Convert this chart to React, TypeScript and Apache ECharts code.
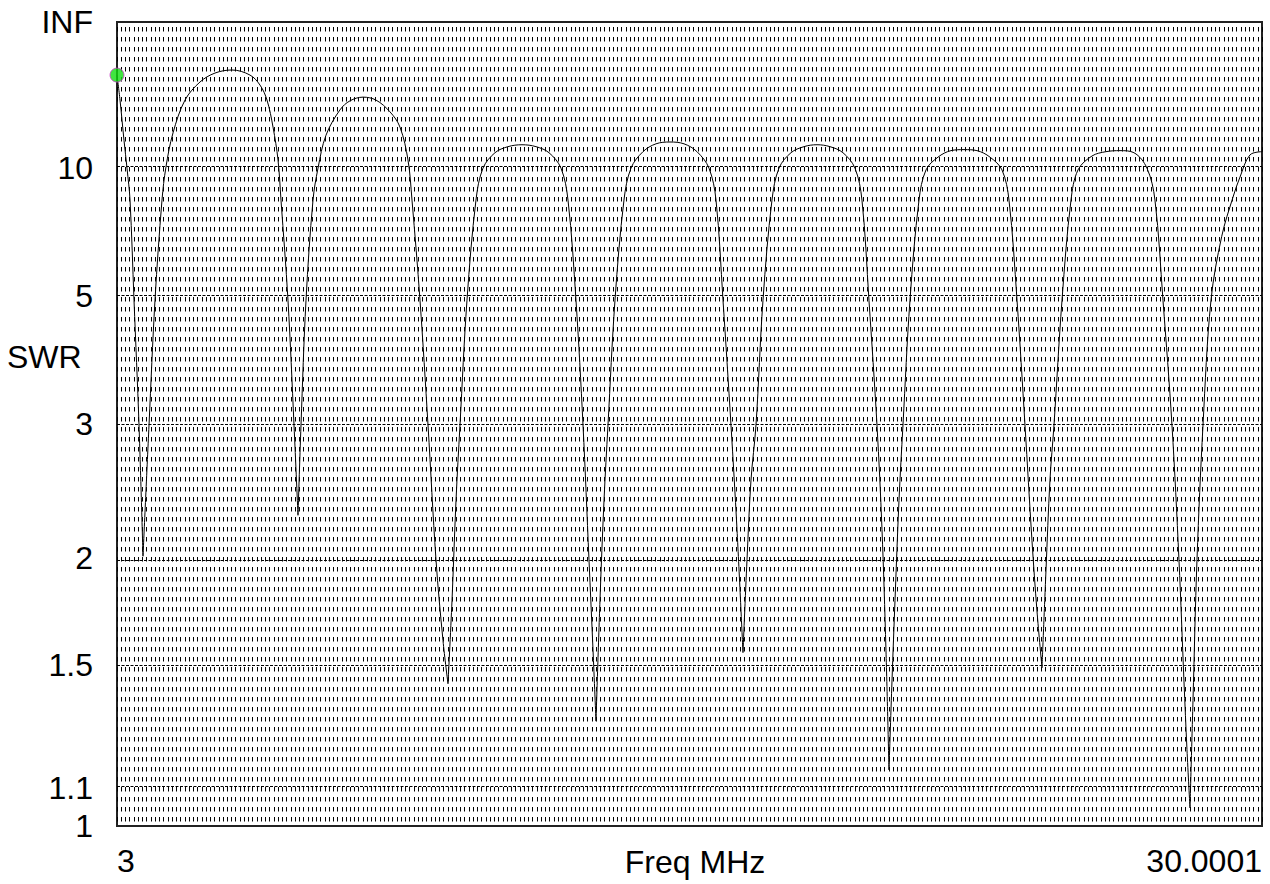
import { useEffect, useRef } from "react";
import * as echarts from "echarts";

// Frequency (MHz) and SWR
const freqMHz = [
  3.0, 3.071, 3.165, 3.236, 3.307, 3.401, 3.519, 3.613,
  3.755, 3.896, 4.061, 4.155, 4.321, 4.604, 4.957, 5.311, 5.712, 6.136, 6.372, 6.537, 6.679, 6.797, 6.867, 7.032, 7.174, 7.268,
  7.339, 7.457, 7.622, 7.74, 7.928, 8.258, 8.494, 8.801, 9.107, 9.437, 9.673, 9.862, 9.956, 10.145, 10.334, 10.522, 10.687, 10.805,
  10.9, 10.994, 11.088, 11.253, 11.465, 11.63, 11.913, 12.22, 12.55, 12.88, 13.187, 13.47, 13.635, 13.823, 13.989, 14.13, 14.225, 14.295,
  14.389, 14.484, 14.578, 14.743, 14.955, 15.12, 15.403, 15.71, 16.04, 16.37, 16.677, 16.96, 17.125, 17.29, 17.478, 17.62, 17.761,
  17.856, 17.95, 18.068, 18.233, 18.445, 18.61, 18.893, 19.199, 19.506, 19.813, 20.119, 20.402, 20.567, 20.732, 20.921, 21.039, 21.133, 21.204,
  21.275, 21.346, 21.44, 21.534, 21.699, 21.912, 22.077, 22.36, 22.666, 22.973, 23.279, 23.586, 23.869, 24.034, 24.223, 24.411, 24.576, 24.694, 24.812,
  24.906, 25.0, 25.095, 25.284, 25.496, 25.661, 25.991, 26.321, 26.651, 26.981, 27.288, 27.476, 27.665, 27.877, 28.042, 28.16, 28.231, 28.302,
  28.373, 28.467, 28.609, 28.797, 29.05, 29.316, 29.481, 29.717, 30.0001,
];
const swr = [
  29.3, 19.6, 12.6, 10.0, 8.03, 4.78, 2.99, 2.01,
  2.99, 4.78, 8.03, 10.1, 13.5, 19.6, 25.8, 30.5, 32.5, 29.3, 24.5, 19.6, 14.3, 10.65, 8.03, 4.78, 2.99, 2.26,
  2.99, 4.78, 8.03, 10.0, 13.2, 17.3, 19.4, 20.4, 19.6, 16.9, 14.3, 10.65, 8.03, 4.78, 2.99, 1.99, 1.6, 1.43,
  1.78, 2.36, 2.99, 4.78, 8.03, 10.0, 11.3, 11.9, 12.1, 11.9, 11.3, 10.0, 8.03, 4.78, 2.99, 1.99, 1.56, 1.3,
  1.78, 2.36, 2.99, 4.78, 8.03, 10.0, 11.4, 12.2, 12.4, 12.2, 11.4, 10.0, 8.03, 4.78, 2.99, 2.17, 1.55,
  1.99, 2.51, 2.99, 4.78, 8.03, 10.0, 11.3, 11.9, 12.1, 11.9, 11.3, 10.0, 8.03, 4.78, 2.99, 2.17, 1.56, 1.15,
  1.44, 1.78, 2.36, 2.99, 4.78, 8.03, 9.87, 10.9, 11.5, 11.6, 11.5, 10.9, 9.87, 8.03, 4.78, 2.99, 2.1, 1.73, 1.49,
  1.93, 2.51, 2.99, 4.78, 8.03, 9.87, 11.0, 11.4, 11.5, 11.3, 10.0, 8.03, 4.78, 2.99, 1.99, 1.44, 1.21, 1.046,
  1.37, 1.99, 2.99, 4.78, 6.5, 8.18, 9.37, 11.1, 11.4,
];

// Y tick labels and the SWR level where the reference draws each of them
const yTickLabels = ["1", "1.1", "1.5", "2", "3", "5", "10", "INF"];
const yTickAtSWR = [1, 1.1, 1.5, 2, 3, 4.87, 10, Infinity];
const majorGridAtSWR = [1.1, 1.5, 2, 3, 4.87, 10];
const xTickValues = [3, 30.0001];
const xTickLabels = ["3", "30.0001"];
const markerPoint = [3, 29.3];

const FONT = "'Liberation Sans', Arial, sans-serif";
const FS = 32;

const refl = (s: number) => (s === Infinity ? 1 : (s - 1) / (s + 1));

export default function App() {
  const ref = useRef<HTMLDivElement>(null);
  useEffect(() => {
    if (!ref.current) return;
    const chart = echarts.init(ref.current, null, { renderer: "svg" });
    const yVals = yTickAtSWR.map(refl);

    // split the curve at its dips so each arch is smoothed while dips stay sharp
    const pts = freqMHz.map((f, i) => [f, refl(swr[i])]);
    const cuts: number[] = [0];
    for (let i = 1; i < swr.length - 1; i++) {
      if (swr[i] < swr[i - 1] && swr[i] < swr[i + 1]) cuts.push(i);
    }
    cuts.push(swr.length - 1);
    const segs: number[][][] = [];
    for (let k = 0; k < cuts.length - 1; k++) segs.push(pts.slice(cuts[k], cuts[k + 1] + 1));

    const lineSeries = segs.map((d, k) => ({
      type: "line",
      data: d,
      showSymbol: false,
      smooth: 0.35,
      lineStyle: { color: "#000", width: 1 },
      silent: true,
      ...(k === 0
        ? {
            markLine: {
              silent: true,
              symbol: "none",
              label: { show: false },
              lineStyle: { color: "#000", width: 1, type: [3, 1.5] },
              data: majorGridAtSWR.map((s) => ({ yAxis: refl(s) })),
            },
          }
        : {}),
    }));

    chart.setOption({
      animation: false,
      backgroundColor: "#fff",
      textStyle: { fontFamily: FONT },
      grid: {
        left: 117,
        top: 22,
        width: 1145,
        height: 804,
        show: true,
        borderColor: "#222",
        borderWidth: 2,
        containLabel: false,
        outerBoundsMode: "none",
      },
      graphic: [
        {
          type: "text",
          left: 7,
          top: 341,
          style: { text: "SWR", font: `${FS}px ${FONT}`, fill: "#000" },
        },
        {
          type: "text",
          x: 695,
          y: 862,
          style: {
            text: "Freq MHz",
            font: `${FS}px ${FONT}`,
            fill: "#000",
            textAlign: "center",
            textVerticalAlign: "middle",
          },
        },
      ],
      xAxis: {
        type: "value",
        min: 3,
        max: 30.0001,
        interval: 0.1,
        axisLine: { show: false },
        axisTick: { show: false },
        axisLabel: {
          customValues: xTickValues,
          formatter: (v: number) => {
            const i = xTickValues.findIndex((t) => Math.abs(t - v) < 1e-6);
            return i >= 0 ? xTickLabels[i] : "";
          },
          alignMinLabel: "left",
          alignMaxLabel: "right",
          fontSize: FS,
          color: "#000",
          fontFamily: FONT,
          margin: 19,
        },
        splitLine: {
          show: true,
          lineStyle: { color: "#000", width: 1, type: [4.5, 5.5], dashOffset: 4.5 },
        },
      },
      yAxis: {
        type: "value",
        min: 0,
        max: 1,
        axisLine: { show: false },
        axisTick: { show: false },
        splitLine: { show: false },
        axisLabel: {
          customValues: yVals,
          formatter: (v: number) => {
            const i = yVals.findIndex((t) => Math.abs(t - v) < 1e-6);
            return i >= 0 ? yTickLabels[i] : "";
          },
          fontSize: FS,
          color: "#000",
          fontFamily: FONT,
          margin: 24,
        },
      },
      series: [
        ...lineSeries,
        {
          type: "scatter",
          data: [[markerPoint[0], refl(markerPoint[1])]],
          symbolSize: 14,
          itemStyle: { color: "#11dd11", borderColor: "#cc44cc", borderWidth: 1 },
          clip: false,
          silent: true,
          z: 5,
        },
      ],
    });
    return () => chart.dispose();
  }, []);
  return (
    <div
      ref={ref}
      style={{ position: "fixed", left: 0, top: 0, width: 1270, height: 884 }}
    />
  );
}
